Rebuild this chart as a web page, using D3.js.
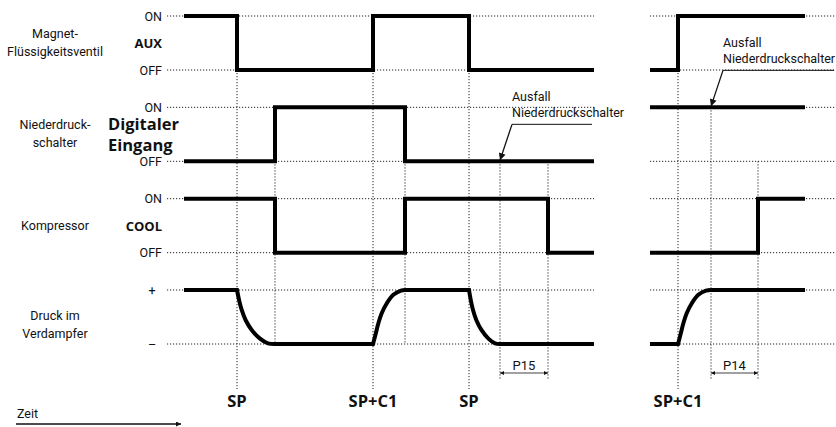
<!DOCTYPE html>
<html>
<head>
<meta charset="utf-8">
<script src="https://cdn.jsdelivr.net/npm/d3@7"></script>
<style>
body { margin: 0; background: #fff; }
text { font-family: Roboto, sans-serif; font-size: 12.5px; fill: #111; }
text.bold { font-family: "Open Sans", sans-serif; font-weight: 700; }
</style>
</head>
<body>
<div id="chart-area"></div>
<script>
// SVG Size
var width = 836,
	height = 427;

// rows, top to bottom
var rowNames = [["Magnet-", "Flüssigkeitsventil"], ["Niederdruck-", "schalter"], ["Kompressor"], ["Druck im", "Verdampfer"]];
var rowTags = [["AUX"], ["Digitaler", "Eingang"], ["COOL"], []];
var levelLabels = [["ON", "OFF"], ["ON", "OFF"], ["ON", "OFF"], ["+", "–"]];

// step signals [time, level], left part of the time axis
var auxLeft = [[0, 1], [53, 0], [189, 1], [285, 0], [410, 0]];
var digitalLeft = [[0, 0], [91, 1], [221, 0], [410, 0]];
var coolLeft = [[0, 1], [91, 0], [221, 1], [364, 0], [410, 0]];

// right part of the time axis (after the break)
var auxRight = [[0, 0], [28, 1], [155, 1]];
var digitalRight = [[0, 1], [155, 1]];
var coolRight = [[0, 0], [108, 1], [155, 1]];

// evaporator pressure, pieces of the curve [time, level]
var pressureLeft = [
	[[0, 1], [53, 1]],
	[[53, 1], [55, 0.82], [57.7, 0.63], [61.7, 0.44], [67.7, 0.26], [76, 0.1], [84, 0.013], [91, 0]],
	[[91, 0], [189, 0]],
	[[189, 0], [191.7, 0.19], [194.3, 0.38], [197.7, 0.57], [202.7, 0.75], [209.3, 0.91], [217, 0.99], [221, 1]],
	[[221, 1], [285, 1]],
	[[285, 1], [286.7, 0.82], [289, 0.63], [292.4, 0.44], [297.4, 0.26], [304.4, 0.1], [311, 0.013], [316, 0]],
	[[316, 0], [410, 0]]
];
var pressureRight = [
	[[0, 0], [28, 0]],
	[[28, 0], [30.7, 0.19], [33.3, 0.38], [36.7, 0.57], [41.7, 0.75], [48.3, 0.91], [56, 0.99], [61, 1]],
	[[61, 1], [155, 1]]
];

// vertical markers: time, row/level where they start, where they end
var marksLeft = [
	{t: 53, row: 0, lvl: 0, to: "label"},
	{t: 91, row: 1, lvl: 0, to: "low"},
	{t: 189, row: 0, lvl: 0, to: "label"},
	{t: 221, row: 1, lvl: 0, to: "low"},
	{t: 285, row: 0, lvl: 0, to: "label"},
	{t: 316, row: 1, lvl: 0, to: "param"},
	{t: 364, row: 1, lvl: 0, to: "param"}
];
var marksRight = [
	{t: 28, row: 0, lvl: 0, to: "label"},
	{t: 61, row: 1, lvl: 1, to: "param"},
	{t: 108, row: 1, lvl: 0, to: "param"}
];

var eventLabels = [
	{part: "L", t: 53, text: "SP"},
	{part: "L", t: 189, text: "SP+C1"},
	{part: "L", t: 285, text: "SP"},
	{part: "R", t: 28, text: "SP+C1"}
];
var params = [
	{part: "L", t0: 316, t1: 364, text: "P15"},
	{part: "R", t0: 61, t1: 108, text: "P14"}
];
var failures = [
	{part: "L", t: 316, row: 1, lvl: 0},
	{part: "R", t: 61, row: 1, lvl: 1}
];

// scales
var xLeft = d3.scaleLinear().domain([0, 410]).range([184, 594]);
var xRight = d3.scaleLinear().domain([0, 155]).range([650, 805]);
var yRow = d3.scaleLinear().domain([0, 3]).range([16, 290]);
var levelH = 54;
var y = function(row, lvl) { return yRow(row) + (1 - lvl) * levelH; };
var xOf = function(part) { return part === "L" ? xLeft : xRight; };
var guideExtent = {L: [167, 594], R: [650, 836]};
var markEnd = {label: 389, param: 379, low: y(3, 0)};

var svg = d3.select("#chart-area")
	.append("svg")
	.attr("width", width)
	.attr("height", height);

// arrow heads
var defs = svg.append("defs");
var addMarker = function(id, w, h, orient) {
	defs.append("marker").attr("id", id).attr("viewBox", "0 0 10 10")
		.attr("refX", 10).attr("refY", 5).attr("markerWidth", w).attr("markerHeight", h)
		.attr("markerUnits", "userSpaceOnUse").attr("orient", orient)
		.append("path").attr("d", "M0,0L10,5L0,10Z").attr("fill", "#111");
};
addMarker("small", 6, 4, "auto-start-reverse");
addMarker("long", 20, 5, "auto");
addMarker("fail", 14, 7, "auto");

var dotted = function(sel) {
	return sel.attr("stroke", "#222").attr("stroke-width", 1).attr("stroke-dasharray", "1.2,1.8").attr("fill", "none");
};

// horizontal guides
["L", "R"].forEach(function(part) {
	d3.range(4).forEach(function(r) {
		[1, 0].forEach(function(lvl) {
			svg.append("line")
				.attr("x1", guideExtent[part][0]).attr("x2", guideExtent[part][1])
				.attr("y1", y(r, lvl)).attr("y2", y(r, lvl))
				.call(dotted);
		});
	});
});

// vertical markers
[[marksLeft, xLeft], [marksRight, xRight]].forEach(function(p) {
	svg.selectAll(null)
		.data(p[0])
		.enter()
		.append("line")
		.attr("x1", function(d) { return p[1](d.t); })
		.attr("x2", function(d) { return p[1](d.t); })
		.attr("y1", function(d) { return y(d.row, d.lvl); })
		.attr("y2", function(d) { return markEnd[d.to]; })
		.call(dotted);
});

// step signals
var thick = function(sel) {
	return sel.attr("fill", "none").attr("stroke", "#000").attr("stroke-width", 4)
		.attr("stroke-linejoin", "miter").attr("stroke-linecap", "butt");
};
var stepLine = function(x, row) {
	return d3.line()
		.x(function(d) { return x(d[0]); })
		.y(function(d) { return y(row, d[1]); })
		.curve(d3.curveStepAfter);
};
[[auxLeft, 0], [digitalLeft, 1], [coolLeft, 2]].forEach(function(s) {
	svg.append("path").attr("d", stepLine(xLeft, s[1])(s[0])).call(thick);
});
[[auxRight, 0], [digitalRight, 1], [coolRight, 2]].forEach(function(s) {
	svg.append("path").attr("d", stepLine(xRight, s[1])(s[0])).call(thick);
});

// pressure curve, pieces joined into one path
var pressurePath = function(pieces, x) {
	var line = d3.line()
		.x(function(d) { return x(d[0]); })
		.y(function(d) { return y(3, d[1]); })
		.curve(d3.curveMonotoneY);
	return pieces.map(function(p, i) {
		var s = p.length > 2 ? line.curve(d3.curveCatmullRom.alpha(0.5))(p) : line.curve(d3.curveLinear)(p);
		return i === 0 ? s : "L" + s.slice(1);
	}).join("");
};
svg.append("path").attr("d", pressurePath(pressureLeft, xLeft)).call(thick);
svg.append("path").attr("d", pressurePath(pressureRight, xRight)).call(thick);

// row names
var nameDy = [0, 0, 0, 8];
rowNames.forEach(function(lines, r) {
	var mid = yRow(r) + levelH / 2 + nameDy[r];
	var top = mid + 4 - (lines.length - 1) * 9;
	lines.forEach(function(l, i) {
		svg.append("text").attr("x", 55).attr("y", top + i * 18)
			.attr("text-anchor", "middle").text(l);
	});
});

// ON / OFF labels
levelLabels.forEach(function(pair, r) {
	pair.forEach(function(l, i) {
		var sign = r === 3;
		svg.append("text")
			.attr("x", sign ? 152 : 162)
			.attr("y", y(r, 1 - i) + 4.5)
			.attr("text-anchor", sign ? "middle" : "end")
			.text(l);
	});
});

// bold tags
rowTags.forEach(function(lines, r) {
	lines.forEach(function(l, i) {
		var big = lines.length > 1;
		svg.append("text").attr("class", "bold")
			.attr("x", big ? 108 : 162)
			.attr("y", yRow(r) + (big ? 23 + i * 20.5 : 32))
			.attr("text-anchor", big ? "start" : "end")
			.style("font-size", big ? "16.5px" : "13px")
			.text(l);
	});
});

// event labels under the markers
svg.selectAll(null)
	.data(eventLabels)
	.enter()
	.append("text")
	.attr("class", "bold")
	.attr("x", function(d) { return xOf(d.part)(d.t); })
	.attr("y", 407)
	.attr("text-anchor", "middle")
	.style("font-size", "16.5px")
	.text(function(d) { return d.text; });

// parameter spans
params.forEach(function(p) {
	var x = xOf(p.part);
	svg.append("line")
		.attr("x1", x(p.t0)).attr("x2", x(p.t1)).attr("y1", 373).attr("y2", 373)
		.attr("stroke", "#111").attr("stroke-width", 0.8)
		.attr("marker-start", "url(#small)").attr("marker-end", "url(#small)");
	svg.append("text")
		.attr("x", (x(p.t0) + x(p.t1)) / 2).attr("y", 370)
		.attr("text-anchor", "middle").style("font-size", "13px")
		.text(p.text);
});

// low pressure switch failure annotations
failures.forEach(function(f) {
	var tipX = xOf(f.part)(f.t), tipY = y(f.row, f.lvl);
	var ex = tipX + 12, ey = tipY - 37;
	svg.append("line")
		.attr("x1", ex).attr("y1", ey).attr("x2", guideExtent[f.part][1] - 2).attr("y2", ey)
		.attr("stroke", "#111").attr("stroke-width", 1);
	svg.append("line")
		.attr("x1", ex).attr("y1", ey).attr("x2", tipX).attr("y2", tipY - 1)
		.attr("stroke", "#111").attr("stroke-width", 1.3)
		.attr("marker-end", "url(#fail)");
	svg.append("text").attr("x", ex).attr("y", ey - 23).text("Ausfall");
	svg.append("text").attr("x", ex).attr("y", ey - 7).text("Niederdruckschalter");
});

// time arrow
svg.append("text").attr("x", 17).attr("y", 418).text("Zeit");
svg.append("line")
	.attr("x1", 16).attr("x2", 181).attr("y1", 424).attr("y2", 424)
	.attr("stroke", "#111").attr("stroke-width", 1.3)
	.attr("marker-end", "url(#long)");
</script>
</body>
</html>
